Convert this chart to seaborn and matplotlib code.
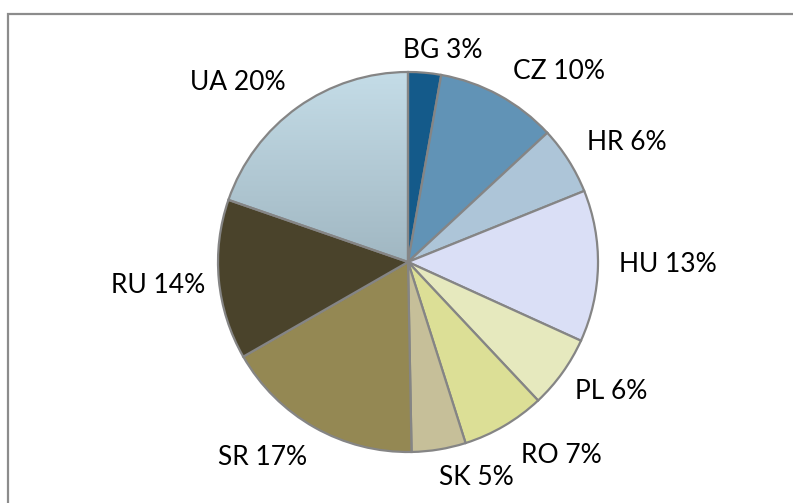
import numpy as np
import matplotlib
matplotlib.use("Agg")
import matplotlib.pyplot as plt
from matplotlib.colors import LinearSegmentedColormap
from matplotlib.patches import Rectangle
import seaborn as sns

countries = ["BG", "CZ", "HR", "HU", "PL", "RO", "SK", "SR", "RU", "UA"]
shares = [2.8, 10.3, 5.8, 12.9, 6.2, 7.1, 4.6, 17.0, 13.6, 19.7]
colors = ["#145a8a", "#6193b6", "#adc5d8", "#dadff6", "#e6e9be",
          "#dcdf96", "#c6bf99", "#948853", "#4a432b", "#b2c9d4"]
ua_top, ua_bottom = "#c5dde8", "#94aab5"

# label placement (best-fit style): radial distance and angular shift (deg, clockwise)
label_dist = [1.13, 1.28, 1.31, 1.37, 1.27, 1.30, 1.19, 1.28, 1.32, 1.30]
label_shift = [4.4, 9.9, 3.7, -0.6, -3.1, -8.0, -8.3, 7.1, 0.1, -8.0]

sns.set_theme(style="white")
plt.rcParams["font.family"] = ["Lato", "DejaVu Sans"]

W, H = 793, 503
fig = plt.figure(figsize=(W / 100, H / 100), dpi=100)
ax = fig.add_axes([0, 0, 1, 1])

cx, cy, r = 408, 262, 190
labels = [f"{c} {round(s)}%" for c, s in zip(countries, shares)]
wedges, texts = ax.pie(shares, colors=colors, startangle=90, counterclock=False,
                       labels=labels, labeldistance=1.3, radius=1,
                       wedgeprops=dict(edgecolor="#858585", linewidth=1.6),
                       textprops=dict(fontsize=19, color="#000000"),
                       frame=True)
ax.set_axis_off()
ax.set_xlim(-cx / r, (W - cx) / r)
ax.set_ylim(-(H - cy) / r, cy / r)
ax.set_aspect("auto")

for w, t, d, s in zip(wedges, texts, label_dist, label_shift):
    mid = np.deg2rad((w.theta1 + w.theta2) / 2 - s)
    t.set_position((d * np.cos(mid), d * np.sin(mid)))
    t.set_ha("center")
    t.set_va("center")

# gradient fill for UA wedge
ua = wedges[-1]
ua.set_facecolor("none")
cmap = LinearSegmentedColormap.from_list("ua", [ua_bottom, ua_top])
grad = np.linspace(0, 1, 256).reshape(-1, 1)
im = ax.imshow(grad, cmap=cmap, extent=[-1.05, 0.05, -0.35, 1.02],
               origin="lower", aspect="auto", zorder=0.5)
im.set_clip_path(ua)

# outer chart border (cropped on right and bottom)
fig.patches.append(Rectangle((8 / W, -0.1), 1.2, 1 - 14 / H + 0.1,
                             transform=fig.transFigure, fill=False,
                             edgecolor="#8c8c8c", linewidth=1.6))

fig.savefig("out.png", dpi=100)
